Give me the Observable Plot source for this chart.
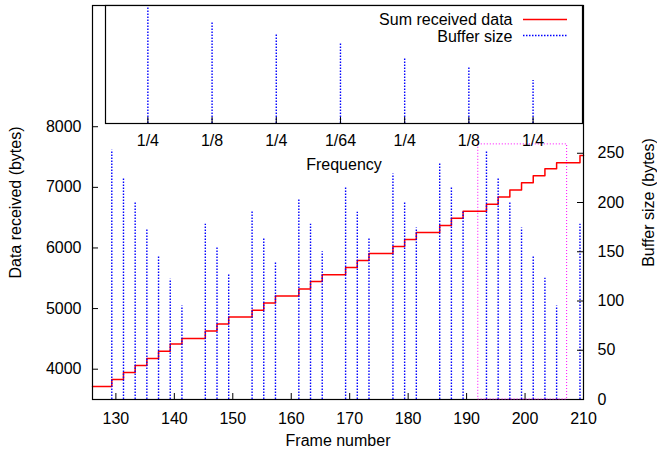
<!DOCTYPE html>
<html><head><meta charset="utf-8">
<script src="https://cdn.jsdelivr.net/npm/d3@7"></script>
<script src="https://cdn.jsdelivr.net/npm/@observablehq/plot@0.6"></script>
<style>
body{margin:0;background:#fff;}
#chart{position:relative;width:657px;height:450px;}
#chart svg{position:absolute;left:0;top:0;}
</style></head><body><div id="chart"></div>
<script>
// ---- data ----
const bufferFrames = [129.3, 131.3, 133.3, 135.3, 137.3, 139.3, 141.3, 145.3, 147.3, 149.3, 153.3, 155.3, 157.3, 161.3, 163.3, 165.3, 169.3, 171.3, 173.3, 177.4, 179.4, 181.4, 185.4, 187.4, 189.4, 193.4, 195.4, 197.4, 199.4, 201.4, 203.4, 205.4, 209.4];
const bufferSizes = [253, 225, 200, 173, 145, 122, 95, 178, 154, 127, 192, 164, 140, 204, 178, 150, 215, 190, 164, 229, 201, 174, 239, 215, 190, 252, 225, 200, 174, 146, 123, 95, 178];
const stepFrames = [126, ...bufferFrames, 210];
const stepTotals = [3715, 3830, 3946, 4062, 4178, 4298, 4414, 4508, 4629, 4744, 4860, 4971, 5092, 5207, 5323, 5445, 5560, 5676, 5792, 5907, 6024, 6140, 6255, 6371, 6492, 6607, 6723, 6839, 6955, 7076, 7192, 7307, 7405, 7526, 7526];
const freqLabels = ["1/4", "1/8", "1/4", "1/64", "1/4", "1/8", "1/4"];
const freqValues = [116, 102, 89, 80, 66, 56, 43];
const xTicks = [130, 140, 150, 160, 170, 180, 190, 200, 210];
const leftTicks = [4000, 5000, 6000, 7000, 8000];
const rightTicks = [0, 50, 100, 150, 200, 250];
const zoomFrames = [192, 207.2];
const zoomTop = 259;

// ---- layout ----
const W = 657, H = 450;
const font = {fontFamily: "'Liberation Sans', Arial, sans-serif", fontSize: "16px", background: "transparent", color: "#000", overflow: "visible"};
const common = {width: W, height: H, marginLeft: 92, marginRight: 74, marginTop: 5, marginBottom: 51, style: font};
const plotW = W - 92 - 74, plotH = H - 5 - 51;
const dotted = {stroke: "#0000ff", strokeWidth: 1.4, strokeDasharray: "1.5,1.5"};

const steps = stepTotals.map((v, i) => ({frame: stepFrames[i], total: v}));
const buffers = bufferSizes.map((v, i) => ({frame: bufferFrames[i], size: v}));
const freqs = freqValues.map((v, i) => ({pos: i + 1, label: freqLabels[i], value: v}));

const A = Plot.plot({
  ...common,
  x: {domain: [126, 210]},
  y: {domain: [3500, 10000]},
  marks: [
    Plot.line(steps, {x: "frame", y: "total", curve: "step-after", stroke: "#ff0000", strokeWidth: 1.5}),
    Plot.ruleX(xTicks, {insetTop: plotH - 6, stroke: "#000"}),
    Plot.ruleY(leftTicks, {insetRight: plotW - 6, stroke: "#000"}),
    Plot.axisX(xTicks, {tickSize: 0, tickPadding: 13, label: null}),
    Plot.axisY(leftTicks, {tickSize: 0, tickPadding: 11, tickFormat: d3.format("d"), label: null}),
    Plot.frame({stroke: "#000", strokeWidth: 1.2}),
    Plot.text(["Frame number"], {frameAnchor: "bottom", dy: 41, lineAnchor: "middle", textAnchor: "middle"}),
    Plot.text(["Data received (bytes)"], {frameAnchor: "left", dx: -77, rotate: -90, lineAnchor: "middle", textAnchor: "middle"})
  ]
});

const B = Plot.plot({
  ...common,
  x: {domain: [126, 210], axis: null},
  y: {domain: [0, 400]},
  marks: [
    Plot.ruleX(buffers, {x: "frame", y1: 0, y2: "size", ...dotted}),
    Plot.rect([{x1: zoomFrames[0], x2: zoomFrames[1], y1: 0, y2: zoomTop}], {x1: "x1", x2: "x2", y1: "y1", y2: "y2", fill: "none", stroke: "#ff00ff", strokeWidth: 1, strokeDasharray: "1,2"}),
    Plot.ruleY(rightTicks, {insetLeft: plotW - 6, stroke: "#000"}),
    Plot.axisY(rightTicks, {anchor: "right", tickSize: 0, tickPadding: 14, label: null}),
    Plot.text(["Buffer size (bytes)"], {frameAnchor: "right", dx: 65, rotate: -90, lineAnchor: "middle", textAnchor: "middle"})
  ]
});

const insetH = 118;
const C = Plot.plot({
  width: W, height: H, marginLeft: 105, marginRight: 75, marginTop: 5, marginBottom: H - 123,
  style: font,
  x: {domain: [0.34, 7.77]},
  y: {domain: [0, insetH], axis: null},
  marks: [
    Plot.frame({fill: "#fff", stroke: "#000", strokeWidth: 1.2}),
    Plot.ruleX(freqs, {x: "pos", y1: 0, y2: "value", ...dotted}),
    Plot.ruleX(freqs, {x: "pos", insetTop: insetH - 6, stroke: "#000"}),
    Plot.axisX(freqs.map(d => d.pos), {tickSize: 0, tickPadding: 11, tickFormat: d => freqLabels[d - 1], label: null}),
    Plot.text(["Frequency"], {frameAnchor: "bottom", dy: 41, lineAnchor: "middle", textAnchor: "middle"}),
    Plot.text(["Sum received data"], {frameAnchor: "top-right", dx: -70, dy: 14, textAnchor: "end", lineAnchor: "middle"}),
    Plot.text(["Buffer size"], {frameAnchor: "top-right", dx: -70, dy: 31, textAnchor: "end", lineAnchor: "middle"})
  ]
});
// legend samples
const cs = d3.select(C);
cs.append("line").attr("x1", 523).attr("x2", 567).attr("y1", 19.5).attr("y2", 19.5).attr("stroke", "#ff0000").attr("stroke-width", 1.5);
cs.append("line").attr("x1", 523).attr("x2", 567).attr("y1", 35.5).attr("y2", 35.5).attr("stroke", "#0000ff").attr("stroke-width", 1.4).attr("stroke-dasharray", "1.5,1.5");

const chart = document.getElementById("chart");
chart.append(A, B, C);
</script></body></html>
